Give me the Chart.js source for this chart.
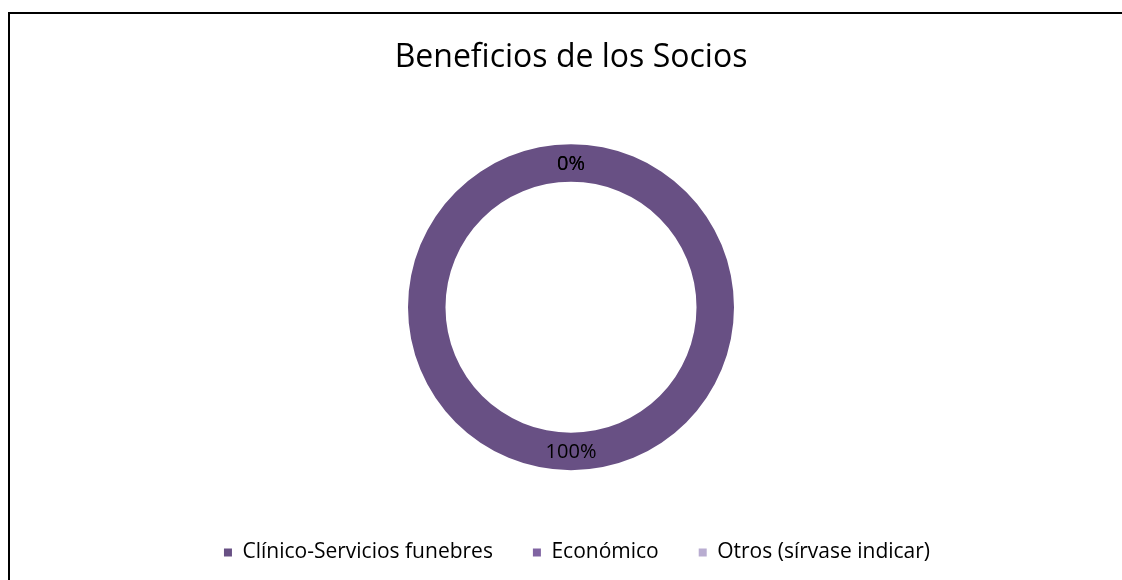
<!DOCTYPE html>
<html>
<head>
<meta charset="utf-8">
<script src="https://cdn.jsdelivr.net/npm/chart.js@4.4.1/dist/chart.umd.min.js"></script>
<style>
  html, body { margin: 0; padding: 0; background: #fff; overflow: hidden; }
  #wrap { position: relative; width: 1122px; height: 580px; }
  #frame { position: absolute; left: 8px; top: 12px; width: 1200px; height: 700px;
           border: 2px solid #000; box-sizing: border-box; }
  #c { position: absolute; left: 0; top: 0; }
</style>
</head>
<body>
<div id="wrap">
  <div id="frame"></div>
  <canvas id="c" width="1122" height="580"></canvas>
</div>
<script>
// Beneficios de los socios: reparto porcentual por tipo de beneficio
const categories = ['Clínico-Servicios funebres', 'Económico', 'Otros (sírvase indicar)'];
const percentages = [100, 0, 0];
const sliceColors = ['#685084', '#8064A2', '#B9ADD1'];
const chartTitle = 'Beneficios de los Socios';

const FONT = "'Open Sans', 'Liberation Sans', sans-serif";

// Writes each slice's percentage at the middle of its arc
const arcLabels = {
  id: 'arcLabels',
  afterDatasetsDraw(chart) {
    const ctx = chart.ctx;
    const meta = chart.getDatasetMeta(0);
    const values = chart.data.datasets[0].data;
    ctx.save();
    ctx.font = '20px ' + FONT;
    ctx.fillStyle = '#000';
    ctx.textAlign = 'center';
    ctx.textBaseline = 'middle';
    meta.data.forEach((arc, i) => {
      const p = arc.tooltipPosition();
      ctx.fillText(values[i] + '%', p.x, p.y + 1);
    });
    ctx.restore();
  }
};

// Nudges the legend row slightly to the right of the plot centre
const legendNudge = {
  id: 'legendNudge',
  afterLayout(chart) {
    if (chart.legend) {
      chart.legend.left += 6;
      chart.legend.right += 6;
    }
  }
};

new Chart(document.getElementById('c'), {
  type: 'doughnut',
  data: {
    labels: categories,
    datasets: [{
      data: percentages,
      backgroundColor: sliceColors,
      borderWidth: 0,
      hoverOffset: 0
    }]
  },
  options: {
    responsive: false,
    animation: false,
    events: [],
    radius: 163,
    cutout: '77%',
    layout: { padding: { left: 20, right: 0, top: 39, bottom: 7 } },
    plugins: {
      tooltip: { enabled: false },
      title: {
        display: true,
        text: chartTitle,
        color: '#000',
        font: { family: FONT, size: 32, weight: 'normal' },
        padding: { top: 0, bottom: 35 }
      },
      legend: {
        position: 'bottom',
        labels: {
          color: '#000',
          font: { family: FONT, size: 21 },
          boxWidth: 8,
          boxHeight: 8,
          padding: 40
        }
      }
    }
  },
  plugins: [arcLabels, legendNudge]
});
</script>
</body>
</html>
